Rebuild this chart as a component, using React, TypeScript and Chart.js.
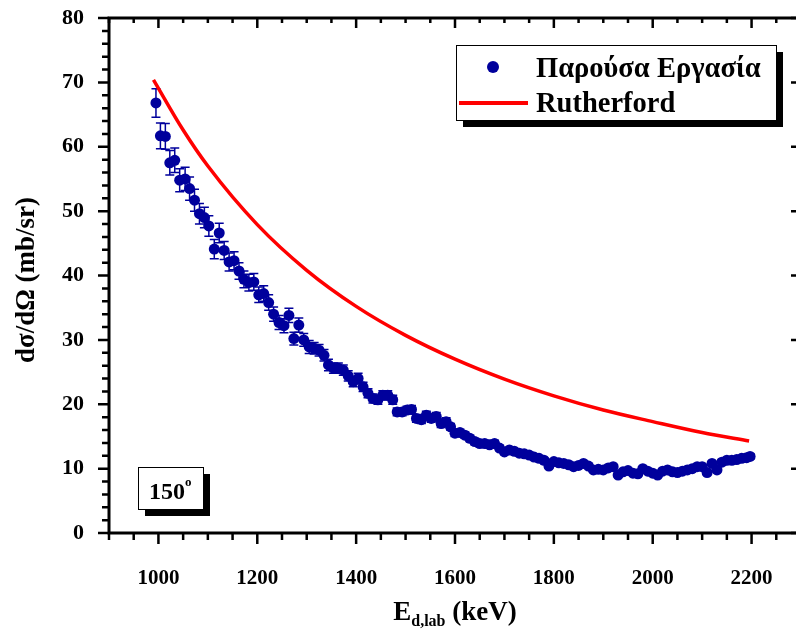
import React, { useEffect, useRef } from "react";
import { Chart, registerables } from "chart.js";

Chart.register(...registerables);

// ---- data ----
const energies = [
  995, 1004, 1014, 1023, 1033, 1043, 1054, 1063, 1073, 1083, 1093, 1102, 1113, 1123, 1133, 1143, 1153, 1163, 1173, 1183,
  1193, 1203, 1213, 1223, 1233, 1244, 1254, 1264, 1274, 1284, 1294, 1305, 1315, 1325, 1335, 1344, 1354, 1364, 1374, 1384,
  1394, 1404, 1414, 1424, 1434, 1444, 1454, 1464, 1474, 1483, 1493, 1503, 1512, 1522, 1532, 1542, 1552, 1562, 1572, 1582,
  1591, 1600, 1610, 1620, 1630, 1640, 1650, 1660, 1670, 1680, 1690, 1700, 1710, 1720, 1730, 1740, 1750, 1760, 1770, 1780,
  1790, 1800, 1810, 1820, 1830, 1840, 1850, 1860, 1870, 1880, 1890, 1900, 1910, 1920, 1930, 1940, 1950, 1960, 1970, 1980,
  1990, 2000, 2010, 2020, 2030, 2040, 2050, 2060, 2070, 2080, 2090, 2100, 2110, 2120, 2130, 2140, 2150, 2160, 2170, 2180,
  2190, 2197,
];
const crossSection = [
  66.8, 61.7, 61.6, 57.5, 57.9, 54.8, 55.0, 53.5, 51.7, 49.6, 49.0, 47.7, 44.1, 46.6, 43.9, 42.1, 42.3, 40.7, 39.4, 38.9,
  39.0, 37.0, 37.2, 35.8, 34.0, 32.7, 32.2, 33.8, 30.2, 32.3, 30.0, 28.9, 28.7, 28.4, 27.6, 26.1, 25.6, 25.6, 25.3, 24.4,
  23.5, 24.0, 22.7, 21.7, 20.9, 20.7, 21.4, 21.4, 20.7, 18.8, 18.8, 19.1, 19.2, 17.8, 17.6, 18.3, 17.8, 18.1, 17.0, 17.3,
  16.5, 15.5, 15.6, 15.2, 14.7, 14.2, 13.9, 13.9, 13.7, 13.9, 13.2, 12.6, 12.9, 12.7, 12.4, 12.3, 12.1, 11.8, 11.6, 11.3,
  10.4, 11.1, 10.9, 10.8, 10.6, 10.3, 10.5, 10.8, 10.4, 9.8, 9.9, 9.8, 10.1, 10.3, 9.0, 9.5, 9.7, 9.3, 9.2, 10.0,
  9.6, 9.3, 9.0, 9.6, 9.8, 9.5, 9.4, 9.6, 9.8, 10.0, 10.3, 10.3, 9.4, 10.8, 9.8, 11.0, 11.3, 11.3, 11.4, 11.6,
  11.7, 11.9,
];
const crossSectionErr = [
  2.2, 2.0, 2.0, 1.9, 1.9, 1.8, 1.8, 1.8, 1.7, 1.6, 1.6, 1.6, 1.5, 1.5, 1.4, 1.4, 1.4, 1.3, 1.3, 1.3,
  1.3, 1.2, 1.2, 1.2, 1.1, 1.1, 1.1, 1.1, 1.0, 1.1, 1.0, 1.0, 0.9, 0.9, 0.9, 0.9, 0.8, 0.8, 0.8, 0.8,
  0.8, 0.8, 0.7, 0.7, 0.7, 0.7, 0.7, 0.7, 0.7, 0.6, 0.6, 0.6, 0.6, 0.6, 0.6, 0.6, 0.6, 0.6, 0.6, 0.6,
  0.5, 0.5, 0.5, 0.5, 0.5, 0.5, 0.5, 0.5, 0.5, 0.5, 0.4, 0.4, 0.4, 0.4, 0.4, 0.4, 0.4, 0.4, 0.4, 0.4,
  0.3, 0.4, 0.3, 0.3, 0.3, 0.3, 0.3, 0.3, 0.3, 0.3, 0.3, 0.3, 0.3, 0.3, 0.3, 0.3, 0.3, 0.3, 0.3, 0.3,
  0.3, 0.3, 0.3, 0.3, 0.3, 0.3, 0.3, 0.3, 0.3, 0.3, 0.3, 0.3, 0.3, 0.3, 0.3, 0.4, 0.4, 0.4, 0.4, 0.4,
  0.4, 0.4,
];
const rutherfordE = [990, 1050, 1100, 1200, 1300, 1400, 1500, 1600, 1700, 1800, 1900, 2000, 2100, 2195];
const rutherfordV = [70.4, 62.6, 57.0, 47.9, 40.8, 35.2, 30.7, 27.0, 23.9, 21.3, 19.1, 17.3, 15.6, 14.3];

const xTickLabels = [1000, 1200, 1400, 1600, 1800, 2000, 2200];
const yTickLabels = [0, 10, 20, 30, 40, 50, 60, 70, 80];

const seriesNames = ["Παρούσα Εργασία", "Rutherford"];
const angleLabel = "150";

const SERIF = "'Liberation Serif', 'Times New Roman', serif";
const BLUE = "#00009C";
const RED = "#FF0000";

export default function App() {
  const ref = useRef<HTMLCanvasElement>(null);

  useEffect(() => {
    const canvas = ref.current!;

    const decor = {
      id: "decor",
      beforeDatasetsDraw(chart: any) {
        const ctx = chart.ctx;
        const xs = chart.scales.x;
        const ys = chart.scales.y;
        ctx.save();
        ctx.strokeStyle = BLUE;
        ctx.lineWidth = 1.5;
        energies.forEach((e, i) => {
          const px = xs.getPixelForValue(e);
          const top = ys.getPixelForValue(crossSection[i] + crossSectionErr[i]);
          const bot = ys.getPixelForValue(crossSection[i] - crossSectionErr[i]);
          ctx.beginPath();
          ctx.moveTo(px, top);
          ctx.lineTo(px, bot);
          ctx.moveTo(px - 4.5, top);
          ctx.lineTo(px + 4.5, top);
          ctx.moveTo(px - 4.5, bot);
          ctx.lineTo(px + 4.5, bot);
          ctx.stroke();
        });
        ctx.restore();
      },
      afterDraw(chart: any) {
        const ctx = chart.ctx;
        const { left, right, top, bottom } = chart.chartArea;
        const xs = chart.scales.x;
        const ys = chart.scales.y;
        ctx.save();
        ctx.strokeStyle = "#000";
        ctx.fillStyle = "#000";
        // ticks
        ctx.lineWidth = 2.5;
        ctx.beginPath();
        for (let v = 900; v <= 2300; v += 50) {
          const px = xs.getPixelForValue(v);
          const major = (v - 1000) % 200 === 0;
          const len = major ? 11 : 7;
          ctx.moveTo(px, bottom);
          ctx.lineTo(px, bottom + len);
          ctx.moveTo(px, top);
          ctx.lineTo(px, top + (major ? 10 : 5));
        }
        for (let v = 0; v <= 80; v += 2) {
          const py = ys.getPixelForValue(v);
          const major = v % 10 === 0;
          ctx.moveTo(left, py);
          ctx.lineTo(left - (major ? 11 : 7), py);
          ctx.moveTo(right, py);
          ctx.lineTo(right - (major ? 10 : 5), py);
        }
        ctx.stroke();
        // frame
        ctx.lineWidth = 3;
        ctx.strokeRect(left, top, right - left, bottom - top);

        // y title
        ctx.save();
        ctx.translate(27, 280);
        ctx.rotate(-Math.PI / 2);
        ctx.font = `bold 27px ${SERIF}`;
        ctx.textAlign = "center";
        ctx.textBaseline = "middle";
        ctx.fillText("dσ/dΩ (mb/sr)", 0, 0);
        ctx.restore();

        // x title with subscript
        const bigFont = `bold 27px ${SERIF}`;
        const subFont = `bold 16px ${SERIF}`;
        ctx.font = bigFont;
        const wE = ctx.measureText("E").width;
        const wRest = ctx.measureText(" (keV)").width;
        ctx.font = subFont;
        const wSub = ctx.measureText("d,lab").width;
        const total = wE + wSub + wRest;
        let tx = (left + right) / 2 - total / 2;
        const base = 620;
        ctx.textAlign = "left";
        ctx.textBaseline = "alphabetic";
        ctx.font = bigFont;
        ctx.fillText("E", tx, base);
        tx += wE;
        ctx.font = subFont;
        ctx.fillText("d,lab", tx, base + 6);
        tx += wSub;
        ctx.font = bigFont;
        ctx.fillText(" (keV)", tx, base);

        // legend box with shadow
        const lx = 456, ly = 45, lw = 320, lh = 75, sh = 7;
        ctx.fillStyle = "#000";
        ctx.fillRect(lx + sh, ly + sh, lw, lh);
        ctx.fillStyle = "#fff";
        ctx.fillRect(lx, ly, lw, lh);
        ctx.lineWidth = 1;
        ctx.strokeStyle = "#000";
        ctx.strokeRect(lx + 0.5, ly + 0.5, lw, lh);
        ctx.fillStyle = BLUE;
        ctx.beginPath();
        ctx.arc(493, 67, 6, 0, Math.PI * 2);
        ctx.fill();
        ctx.strokeStyle = RED;
        ctx.lineWidth = 4;
        ctx.beginPath();
        ctx.moveTo(459, 103);
        ctx.lineTo(528, 103);
        ctx.stroke();
        ctx.fillStyle = "#000";
        ctx.font = `bold 28.5px ${SERIF}`;
        ctx.textAlign = "left";
        ctx.fillText(seriesNames[0], 536, 77);
        ctx.fillText(seriesNames[1], 536, 112);

        // angle box with shadow
        const bx = 138, by = 467, bw = 65, bh = 42;
        ctx.fillStyle = "#000";
        ctx.fillRect(bx + sh, by + sh, bw, bh);
        ctx.fillStyle = "#fff";
        ctx.fillRect(bx, by, bw, bh);
        ctx.strokeStyle = "#000";
        ctx.lineWidth = 1;
        ctx.strokeRect(bx + 0.5, by + 0.5, bw, bh);
        ctx.fillStyle = "#000";
        ctx.font = `bold 24px ${SERIF}`;
        ctx.fillText(angleLabel, 149, 499);
        const wa = ctx.measureText(angleLabel).width;
        ctx.font = `bold 13px ${SERIF}`;
        ctx.fillText("o", 149 + wa, 486);
        ctx.restore();
      },
    };

    const chart = new Chart(canvas, {
      type: "scatter",
      data: {
        datasets: [
          {
            label: seriesNames[0],
            data: energies.map((e, i) => ({ x: e, y: crossSection[i] })),
            backgroundColor: BLUE,
            borderColor: BLUE,
            borderWidth: 0,
            pointRadius: 5.5,
            showLine: false,
            order: 1,
          },
          {
            label: seriesNames[1],
            type: "line",
            data: rutherfordE.map((e, i) => ({ x: e, y: rutherfordV[i] })),
            borderColor: RED,
            borderWidth: 3.5,
            pointRadius: 0,
            fill: false,
            cubicInterpolationMode: "monotone",
            order: 2,
          } as any,
        ],
      },
      options: {
        responsive: false,
        animation: false,
        devicePixelRatio: 1,
        layout: { padding: { top: 18, right: 19, left: 0, bottom: 0 } },
        plugins: { legend: { display: false }, tooltip: { enabled: false } },
        scales: {
          x: {
            type: "linear",
            min: 900,
            max: 2300,
            grid: { display: false },
            border: { display: false },
            afterBuildTicks: (s: any) => {
              s.ticks = xTickLabels.map((v) => ({ value: v }));
            },
            afterFit: (s: any) => {
              s.height = 102;
              s.paddingLeft = 0;
              s.paddingRight = 0;
            },
            ticks: {
              autoSkip: false,
              maxRotation: 0,
              padding: 25,
              color: "#000",
              font: { family: SERIF, size: 21, weight: "bold" },
              callback: (v: any) => String(v),
            },
          },
          y: {
            type: "linear",
            min: 0,
            max: 80,
            grid: { display: false },
            border: { display: false },
            afterBuildTicks: (s: any) => {
              s.ticks = yTickLabels.map((v) => ({ value: v }));
            },
            afterFit: (s: any) => {
              s.width = 109;
              s.paddingTop = 0;
              s.paddingBottom = 0;
            },
            ticks: {
              autoSkip: false,
              padding: 17,
              color: "#000",
              font: { family: SERIF, size: 22, weight: "bold" },
              callback: (v: any) => String(v),
            },
          },
        },
      },
      plugins: [decor],
    });

    return () => chart.destroy();
  }, []);

  return (
    <div
      style={{
        position: "fixed",
        left: 0,
        top: 0,
        width: 796,
        height: 635,
        overflow: "hidden",
        background: "#fff",
      }}
    >
      <canvas ref={ref} width={820} height={635} style={{ width: 820, height: 635, display: "block" }} />
    </div>
  );
}
